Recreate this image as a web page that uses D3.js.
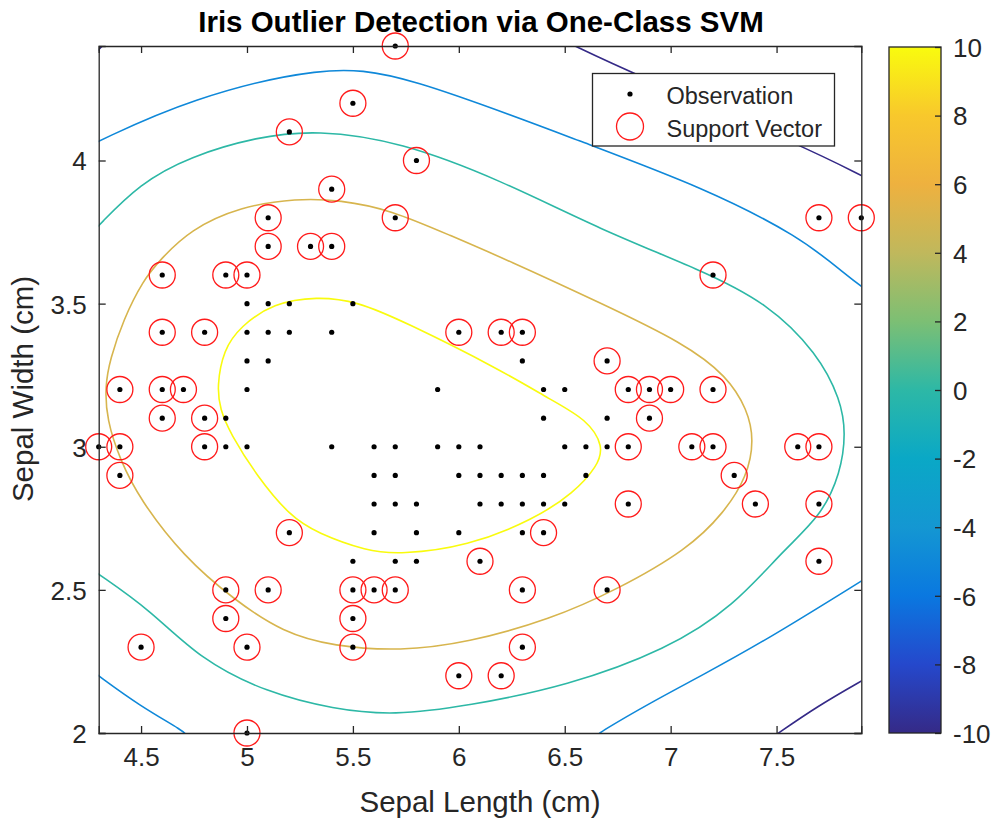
<!DOCTYPE html>
<html>
<head>
<meta charset="utf-8">
<script src="https://cdn.jsdelivr.net/npm/d3@7"></script>
<style>
  body { margin: 0; background: #fff; }
  text { font-family: "Liberation Sans", Arial, Helvetica, sans-serif; }
</style>
</head>
<body>
<div id="chart"></div>
<script>
// ---------------------------------- datos ----------------------------------

// Observaciones (largo sépalo, ancho sépalo)
const observaciones = [
  [5.1,3.5],[4.9,3.0],[4.7,3.2],[4.6,3.1],[5.0,3.6],[5.4,3.9],[4.6,3.4],[5.0,3.4],[4.4,2.9],[4.9,3.1],
  [5.4,3.7],[4.8,3.4],[4.8,3.0],[4.3,3.0],[5.8,4.0],[5.7,4.4],[5.7,3.8],[5.1,3.8],[5.4,3.4],[5.1,3.7],
  [4.6,3.6],[5.1,3.3],[5.0,3.0],[5.2,3.5],[5.2,3.4],[4.8,3.1],[5.2,4.1],[5.5,4.2],[5.0,3.2],[5.5,3.5],
  [4.9,3.6],[4.4,3.0],[5.1,3.4],[5.0,3.5],[4.5,2.3],[4.4,3.2],[4.6,3.2],[5.3,3.7],[5.0,3.3],
  [7.0,3.2],[6.4,3.2],[6.9,3.1],[5.5,2.3],[6.5,2.8],[5.7,2.8],[6.3,3.3],[4.9,2.4],[6.6,2.9],[5.2,2.7],
  [5.0,2.0],[5.9,3.0],[6.0,2.2],[6.1,2.9],[5.6,2.9],[6.7,3.1],[5.6,3.0],[5.8,2.7],[6.2,2.2],[5.6,2.5],
  [5.9,3.2],[6.1,2.8],[6.3,2.5],[6.4,2.9],[6.6,3.0],[6.8,2.8],[6.7,3.0],[6.0,2.9],[5.7,2.6],[5.5,2.4],
  [6.0,2.7],[5.4,3.0],[6.0,3.4],[6.3,2.3],[5.5,2.5],[5.5,2.6],[6.1,3.0],[5.8,2.6],[5.0,2.3],[5.6,2.7],
  [5.7,3.0],[5.7,2.9],[6.2,2.9],[5.1,2.5],
  [7.1,3.0],[6.3,2.9],[6.5,3.0],[7.6,3.0],[4.9,2.5],[7.3,2.9],[6.7,2.5],[7.2,3.6],[6.5,3.2],[6.4,2.7],
  [6.8,3.0],[5.7,2.5],[5.8,2.8],[7.7,3.8],[7.7,2.6],[6.9,3.2],[5.6,2.8],[7.7,2.8],[6.3,2.7],[6.7,3.3],
  [7.2,3.2],[6.2,2.8],[6.4,2.8],[7.2,3.0],[7.4,2.8],[7.9,3.8],[6.3,2.8],[6.1,2.6],[7.7,3.0],[6.3,3.4],
  [6.4,3.1],[6.0,3.0],[6.8,3.2],[6.2,3.4]
];

// Vectores de soporte
const vectoresSoporte = [
  [5.7,4.4],[5.5,4.2],[5.2,4.1],[5.8,4.0],[5.4,3.9],[5.1,3.8],[5.7,3.8],[7.7,3.8],[7.9,3.8],
  [5.1,3.7],[5.3,3.7],[5.4,3.7],[4.6,3.6],[4.9,3.6],[5.0,3.6],[7.2,3.6],
  [4.6,3.4],[4.8,3.4],[6.0,3.4],[6.2,3.4],[6.3,3.4],[6.7,3.3],
  [4.4,3.2],[4.6,3.2],[4.7,3.2],[6.8,3.2],[6.9,3.2],[7.0,3.2],[7.2,3.2],
  [4.6,3.1],[4.8,3.1],[6.9,3.1],
  [4.3,3.0],[4.4,3.0],[4.8,3.0],[6.8,3.0],[7.1,3.0],[7.2,3.0],[7.6,3.0],[7.7,3.0],
  [4.4,2.9],[7.3,2.9],[6.8,2.8],[7.4,2.8],[7.7,2.8],[5.2,2.7],[6.4,2.7],[6.1,2.6],[7.7,2.6],
  [4.9,2.5],[5.1,2.5],[5.5,2.5],[5.6,2.5],[5.7,2.5],[6.3,2.5],[6.7,2.5],
  [4.9,2.4],[5.5,2.4],[4.5,2.3],[5.0,2.3],[5.5,2.3],[6.3,2.3],[6.0,2.2],[6.2,2.2],[5.0,2.0]
];

// Curvas de nivel
const nivel10 = [
  [4.858,3.211],[4.889,3.339],[4.968,3.42],[5.125,3.502],[5.33,3.525],[5.519,3.508],[5.74,3.438],
  [6.197,3.269],[6.433,3.164],[6.606,3.095],[6.685,3.001],[6.654,2.932],[6.543,2.839],[6.354,2.746],
  [6.04,2.652],[5.724,2.624],[5.567,2.635],[5.33,2.699],[5.204,2.757],[5.047,2.897],[4.92,3.048],[4.873,3.13]
];
const nivel5 = [
  [4.33,3.211],[4.353,3.304],[4.416,3.444],[4.511,3.583],[4.59,3.653],[4.731,3.758],[4.968,3.839],
  [5.236,3.868],[5.44,3.862],[5.677,3.828],[5.96,3.738],[6.228,3.653],[6.67,3.502],[7.063,3.362],
  [7.268,3.246],[7.362,3.13],[7.394,3.025],[7.362,2.897],[7.252,2.769],[7.079,2.641],[6.748,2.501],
  [6.433,2.397],[6.04,2.315],[5.724,2.286],[5.409,2.303],[5.172,2.35],[4.936,2.467],[4.7,2.617],
  [4.495,2.815],[4.4,2.955],[4.338,3.095]
];
const nivel0 = [
  [4.29,3.765],[4.495,3.921],[4.731,4.014],[5.047,4.083],[5.33,4.107],[5.724,4.066],[6.197,3.932],
  [6.669,3.758],[7.142,3.618],[7.457,3.502],[7.693,3.327],[7.803,3.164],[7.827,3.048],[7.803,2.909],
  [7.709,2.757],[7.535,2.641],[7.299,2.443],[6.984,2.292],[6.512,2.164],[6.04,2.094],[5.692,2.061],
  [5.409,2.083],[5.094,2.141],[4.779,2.257],[4.542,2.431],[4.29,2.56]
];
const nivelM5a = [
  [4.29,4.064],[4.731,4.217],[5.361,4.331],[5.724,4.307],[6.637,4.049],[7.142,3.909],[7.614,3.734],
  [7.835,3.595],[7.92,3.55]
];
const nivelM5b = [[7.92,2.54],[7.457,2.327],[7.142,2.199],[6.905,2.106],[6.669,2.004],[6.65,1.99]];
const nivelM5c = [[4.29,2.205],[4.495,2.094],[4.708,2.004],[4.715,1.99]];
const nivelM10a = [[6.52,4.41],[6.811,4.307],[7.63,4.049],[7.92,3.94]];
const nivelM10b = [[7.49,1.99],[7.693,2.094],[7.92,2.19]];
const nivelM10c = [[4.29,4.38],[4.33,4.41]];

const niveles = [10, 5, 0, -5, -5, -5, -10, -10, -10];
const curvas = [nivel10, nivel5, nivel0, nivelM5a, nivelM5b, nivelM5c, nivelM10a, nivelM10b, nivelM10c];
const cerradas = [true, true, false, false, false, false, false, false, false];

const ticksX = [4.5, 5, 5.5, 6, 6.5, 7, 7.5];
const ticksY = [2, 2.5, 3, 3.5, 4];
const ticksBarra = [-10, -8, -6, -4, -2, 0, 2, 4, 6, 8, 10];

// mapa de color tipo parula (valor, color)
const parulaValores = [-10, -8, -6, -4, -2, 0, 2, 4, 6, 8, 10];
const parulaColores = ["#352a87", "#2548cc", "#0a78e0", "#1497d2", "#0aa8c6", "#2db8a6",
                       "#7cbf74", "#c0b85c", "#eeb13f", "#f8c82c", "#f9fb0e"];

// ---------------------------------- gráfico ----------------------------------
const WIDTH = 991, HEIGHT = 820;
const PLOT = {left: 98.7, right: 861.3, top: 46, bottom: 733};
const BARRA = {left: 889, right: 941, top: 47, bottom: 733};
const GRIS = "#262626";

const svg = d3.select("#chart").append("svg")
  .attr("width", WIDTH).attr("height", HEIGHT);

const x = d3.scaleLinear().domain([4.3, 7.9]).range([PLOT.left, PLOT.right]);
const y = d3.scaleLinear().domain([2, 4.4]).range([PLOT.bottom, PLOT.top]);
const color = d3.scaleLinear().domain(parulaValores).range(parulaColores);

svg.append("defs").append("clipPath").attr("id", "clip")
  .append("rect")
  .attr("x", PLOT.left).attr("y", PLOT.top)
  .attr("width", PLOT.right - PLOT.left).attr("height", PLOT.bottom - PLOT.top);

// Curvas de nivel (suavizadas)
const gCurvas = svg.append("g").attr("clip-path", "url(#clip)");
curvas.forEach((pts, i) => {
  const linea = d3.line()
    .x(d => x(d[0])).y(d => y(d[1]))
    .curve(cerradas[i] ? d3.curveBasisClosed : d3.curveBasis);
  gCurvas.append("path")
    .attr("d", linea(pts))
    .attr("fill", "none")
    .attr("stroke", color(niveles[i]))
    .attr("stroke-width", 1.6);
});

// Puntos
svg.append("g").selectAll("circle")
  .data(observaciones)
  .join("circle")
  .attr("cx", d => x(d[0])).attr("cy", d => y(d[1]))
  .attr("r", 2.6)
  .attr("fill", "#000");

svg.append("g").selectAll("circle")
  .data(vectoresSoporte)
  .join("circle")
  .attr("cx", d => x(d[0])).attr("cy", d => y(d[1]))
  .attr("r", 13)
  .attr("fill", "none")
  .attr("stroke", "#ff1a1a")
  .attr("stroke-width", 1.3);

// Ejes (caja con ticks hacia adentro)
const fmt = d => String(d);
const ejeX = svg.append("g").attr("transform", `translate(0,${PLOT.bottom})`)
  .call(d3.axisBottom(x).tickValues(ticksX).tickSize(-7).tickPadding(15).tickFormat(fmt));
const ejeXTop = svg.append("g").attr("transform", `translate(0,${PLOT.top})`)
  .call(d3.axisTop(x).tickValues(ticksX).tickSize(-7).tickFormat(""));
const ejeY = svg.append("g").attr("transform", `translate(${PLOT.left},0)`)
  .call(d3.axisLeft(y).tickValues(ticksY).tickSize(-7).tickPadding(12).tickFormat(fmt));
const ejeYDer = svg.append("g").attr("transform", `translate(${PLOT.right},0)`)
  .call(d3.axisRight(y).tickValues(ticksY).tickSize(-7).tickFormat(""));

[ejeX, ejeXTop, ejeY, ejeYDer].forEach(g => {
  g.select(".domain").attr("stroke", GRIS).attr("stroke-width", 1.3);
  g.selectAll(".tick line").attr("stroke", GRIS).attr("stroke-width", 1.3);
  g.selectAll(".tick text").attr("fill", GRIS).attr("font-size", 26)
    .style("font-family", "'Liberation Sans', Arial, sans-serif");
});
ejeX.selectAll(".tick text").attr("dy", "0.71em");
ejeY.selectAll(".tick text").attr("dy", "0.36em");

// Barra de color
const yBarra = d3.scaleLinear().domain([-10, 10]).range([BARRA.bottom, BARRA.top]);
const grad = svg.select("defs").append("linearGradient")
  .attr("id", "parula").attr("x1", 0).attr("y1", 1).attr("x2", 0).attr("y2", 0);
grad.selectAll("stop")
  .data(parulaValores)
  .join("stop")
  .attr("offset", d => (d + 10) / 20)
  .attr("stop-color", d => color(d));

svg.append("rect")
  .attr("x", BARRA.left).attr("y", BARRA.top)
  .attr("width", BARRA.right - BARRA.left).attr("height", BARRA.bottom - BARRA.top)
  .attr("fill", "url(#parula)");

const ejeBarra = svg.append("g").attr("transform", `translate(${BARRA.right},0)`)
  .call(d3.axisRight(yBarra).tickValues(ticksBarra).tickSize(-6).tickPadding(12).tickFormat(fmt));
ejeBarra.select(".domain").remove();
ejeBarra.selectAll(".tick line").attr("stroke", GRIS).attr("stroke-width", 1.3);
ejeBarra.selectAll(".tick text").attr("fill", GRIS).attr("font-size", 26).attr("dy", "0.36em")
  .style("font-family", "'Liberation Sans', Arial, sans-serif");

svg.append("rect")
  .attr("x", BARRA.left).attr("y", BARRA.top)
  .attr("width", BARRA.right - BARRA.left).attr("height", BARRA.bottom - BARRA.top)
  .attr("fill", "none").attr("stroke", GRIS).attr("stroke-width", 1.3);

// Textos
svg.append("text")
  .attr("x", 481).attr("y", 32)
  .attr("text-anchor", "middle")
  .attr("font-size", 29.5).attr("font-weight", "bold").attr("fill", "#000")
  .text("Iris Outlier Detection via One-Class SVM");

svg.append("text")
  .attr("x", 480).attr("y", 812)
  .attr("text-anchor", "middle")
  .attr("font-size", 29.5).attr("fill", GRIS)
  .text("Sepal Length (cm)");

svg.append("text")
  .attr("transform", "translate(33,389) rotate(-90)")
  .attr("text-anchor", "middle")
  .attr("font-size", 29.5).attr("fill", GRIS)
  .text("Sepal Width (cm)");

// Leyenda
const leyenda = svg.append("g");
leyenda.append("rect")
  .attr("x", 592.5).attr("y", 73.5).attr("width", 242).attr("height", 72.5)
  .attr("fill", "#fff").attr("stroke", GRIS).attr("stroke-width", 1.3);
leyenda.append("circle").attr("cx", 630).attr("cy", 94).attr("r", 2.6).attr("fill", "#000");
leyenda.append("circle").attr("cx", 630).attr("cy", 126.5).attr("r", 13.5)
  .attr("fill", "none").attr("stroke", "#ff1a1a").attr("stroke-width", 1.3);
leyenda.append("text").attr("x", 666.5).attr("y", 104)
  .attr("font-size", 23.5).attr("fill", GRIS).text("Observation");
leyenda.append("text").attr("x", 666.5).attr("y", 136.5)
  .attr("font-size", 23.5).attr("fill", GRIS).text("Support Vector");
</script>
</body>
</html>
